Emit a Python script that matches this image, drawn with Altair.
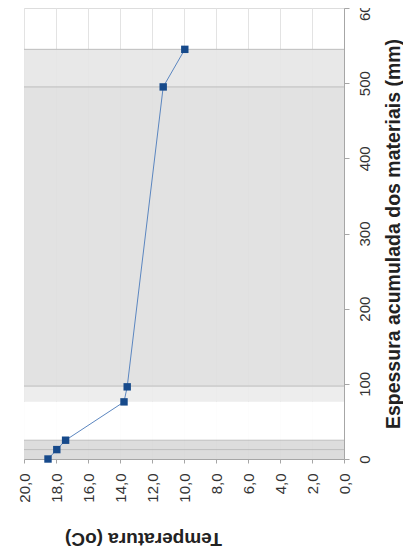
import altair as alt
import pandas as pd

# measured profile
thickness = [0, 12.5, 25, 76, 96, 495, 545]
temperature = [18.5, 17.95, 17.4, 13.75, 13.55, 11.3, 9.95]

# material layers (cumulative thickness, mm)
layer_start = [0, 12.5, 25, 76, 97, 495]
layer_end = [12.5, 25, 76, 97, 495, 545]
layer_fill = ["#d9d9d9", "#dadada", "#ffffff", "#ececec", "#e0e0e0", "#e6e6e6"]
boundaries = [12.5, 25, 97, 495, 545]

x_ticks = [0, 2, 4, 6, 8, 10, 12, 14, 16, 18, 20]
y_ticks = [0, 100, 200, 300, 400, 500, 600]

W, H = 320, 451

pts = pd.DataFrame({"esp": thickness, "temp": temperature, "i": list(range(len(thickness)))})
layers = pd.DataFrame({"s": layer_start, "e": layer_end, "f": layer_fill})
bnd = pd.DataFrame({"b": boundaries})

yscale = alt.Scale(domain=[0, 600], nice=False)
xscale = alt.Scale(domain=[20, 0], nice=False)

xaxis = alt.Axis(
    values=x_ticks,
    labelExpr="replace(format(datum.value, '.1f'), '.', ',')",
    labelAngle=270,
    labelAlign="right",
    labelBaseline="middle",
    labelPadding=10,
    labelFontSize=15,
    labelColor="#333333",
    labelFont="Liberation Sans",
    labelOverlap=False,
    labelFlush=False,
    tickSize=4,
    tickColor="#a6a6a6",
    domainColor="#a6a6a6",
    grid=True,
    gridColor="#e3e3e3",
    title="Temperatura (oC)",
    titleFont="Liberation Sans",
    titleFontSize=19,
    titleFontWeight="bold",
    titleAngle=180,
    titleBaseline="middle",
    titleAlign="center",
    titleX=119,
    titleY=79,
    titleColor="#222222",
)

yaxis = alt.Axis(
    orient="right",
    values=y_ticks,
    format="d",
    labelAngle=270,
    labelAlign="center",
    labelBaseline="middle",
    labelPadding=15,
    labelFontSize=15,
    labelColor="#333333",
    labelFont="Liberation Sans",
    labelOverlap=False,
    labelFlush=False,
    tickSize=5,
    tickColor="#a6a6a6",
    domainColor="#a6a6a6",
    grid=False,
    title="Espessura acumulada  dos materiais (mm)",
    titleFont="Liberation Sans",
    titleFontSize=19.5,
    titleFontWeight="bold",
    titleAngle=270,
    titleBaseline="middle",
    titleAlign="center",
    titleX=49,
    titleY=H / 2,
    titleColor="#222222",
)

bands = alt.Chart(layers).mark_rect(strokeWidth=0, fillOpacity=0.92).encode(
    y=alt.Y("s:Q", scale=yscale, axis=yaxis),
    y2="e:Q",
    x=alt.value(0),
    x2=alt.value(W),
    fill=alt.Fill("f:N", scale=None),
)

rules = alt.Chart(bnd).mark_rule(color="#bdbdbd", strokeWidth=1).encode(
    y=alt.Y("b:Q", scale=yscale, axis=yaxis),
    x=alt.value(0),
    x2=alt.value(W),
)

line = alt.Chart(pts).mark_line(color="#5b86c0", strokeWidth=1).encode(
    x=alt.X("temp:Q", scale=xscale, axis=xaxis),
    y=alt.Y("esp:Q", scale=yscale, axis=yaxis),
    order="i:Q",
)

marks = alt.Chart(pts).mark_square(size=55, color="#174a8b", opacity=1).encode(
    x=alt.X("temp:Q", scale=xscale, axis=xaxis),
    y=alt.Y("esp:Q", scale=yscale, axis=yaxis),
)

chart = alt.layer(bands, rules, line, marks).properties(
    width=W,
    height=H,
    autosize=alt.AutoSizeParams(type="none"),
    padding={"left": 16, "top": 0, "right": 59, "bottom": 91},
).configure_view(stroke="#d9d9d9", strokeWidth=1).configure(background="white")

chart.save("out.html", embed_options={"renderer": "svg", "actions": False})
